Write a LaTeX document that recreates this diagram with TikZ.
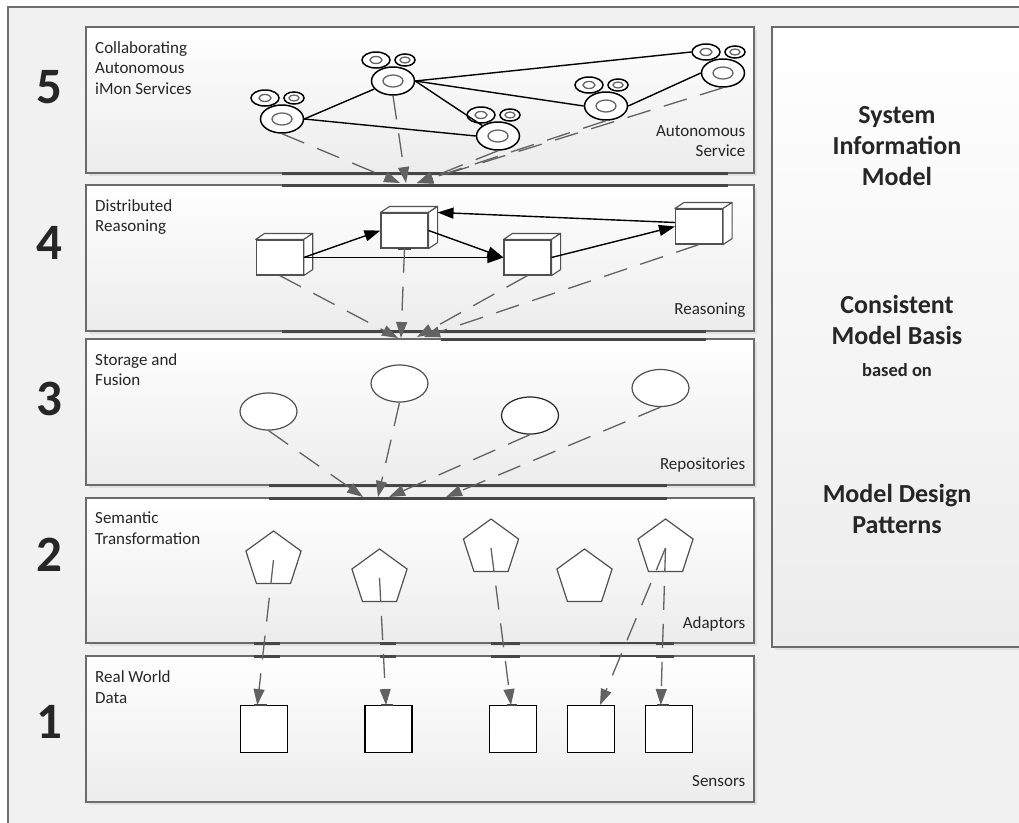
\documentclass[tikz,border=0pt]{standalone}
\usepackage{fontspec}
\setmainfont{Carlito}
\usetikzlibrary{arrows.meta,shapes.geometric,shadows,calc}

\definecolor{framegray}{HTML}{6F6F6F}
\definecolor{pagegray}{HTML}{F0F1F0}
\definecolor{boxedge}{HTML}{6B6B6B}
\definecolor{boxfoot}{HTML}{EBECEB}
\definecolor{linkgray}{HTML}{626262}
\definecolor{bargray}{HTML}{464646}
\definecolor{inkgray}{HTML}{262626}
\definecolor{shapeedge}{HTML}{505050}

\tikzset{
  layerbox/.style={draw=boxedge, line width=1.5pt, top color=white, bottom color=boxfoot,
    drop shadow={shadow xshift=2.5pt, shadow yshift=-3pt, opacity=0.15}},
  joinbar/.style={draw=bargray, line width=3pt},
  thinbar/.style={draw=bargray, line width=1.2pt},
  gluemark/.style={draw=bargray, line width=2pt},
  layernum/.style={font=\fontsize{51}{60}\selectfont\bfseries, text=inkgray, inner sep=0pt},
  layertitle/.style={font=\fontsize{17}{20.6}\selectfont, text=inkgray, align=left, inner sep=0pt, anchor=base west},
  layertag/.style={font=\fontsize{17}{20.6}\selectfont, text=inkgray, align=right, inner sep=0pt, anchor=base east},
  sidetext/.style={font=\fontsize{26}{31}\selectfont\bfseries, text=inkgray, align=center, inner sep=0pt, anchor=base},
  ring/.style={ellipse, draw=black, line width=1.5pt, fill=white, inner sep=0pt},
  ringcore/.style={ellipse, draw=black!60, line width=1.3pt, fill=white, inner sep=0pt},
  peer/.style={draw=black, line width=1.4pt},
  cubeface/.style={rectangle, draw=shapeedge, line width=1.1pt, fill=white, inner sep=0pt,
    minimum width=47pt, minimum height=35pt},
  cubeline/.style={draw=shapeedge, line width=1.1pt, fill=white, line join=round},
  reason/.style={draw=black, line width=1.4pt, -{Triangle[length=16pt,width=11pt]}},
  repo/.style={ellipse, draw=shapeedge, line width=1.2pt, fill=white, inner sep=0pt,
    minimum width=57pt, minimum height=37pt},
  adaptor/.style={regular polygon, regular polygon sides=5, draw=shapeedge, line width=1.2pt,
    fill=white, inner sep=0pt, minimum size=58pt},
  sensor/.style={rectangle, draw=black, line width=1.3pt, fill=white, inner sep=0pt, minimum size=47pt},
  flow/.style={draw=linkgray, line width=1.3pt, dash pattern=on 24pt off 14pt,
    -{Triangle[length=16pt,width=11pt]}},
  service/.pic={
    \node[ring, minimum width=28pt, minimum height=16pt] (-earL) at (-17,-21) {};
    \node[ringcore, minimum width=12pt, minimum height=7pt] (-coreL) at (-17,-21) {};
    \node[ring, minimum width=20pt, minimum height=12pt] (-earR) at (12,-21) {};
    \node[ringcore, minimum width=10pt, minimum height=6pt] (-coreR) at (12,-21) {};
    \node[ring, minimum width=43pt, minimum height=28pt] (-big) at (0,0) {};
    \node[ringcore, minimum width=20pt, minimum height=12pt] (-core) at (0,0) {};
  }
}

% 3-D depth of a reasoning cube: top and right faces
\newcommand\cubedepth[1]{%
  \draw[cubeline] (#1.north west) -- ++(9,-6) -- ($(#1.north east)+(9,-6)$) -- (#1.north east) -- cycle;
  \draw[cubeline] (#1.north east) -- ++(9,-6) -- ($(#1.south east)+(9,-6)$) -- (#1.south east) -- cycle;
}

\begin{document}
\begin{tikzpicture}[x=1pt, y=-1pt]
\useasboundingbox (0,0) rectangle (1019,822);
\clip (0,0) rectangle (1019,822);
\fill[white] (0,0) rectangle (1019,822);
\draw[draw=framegray, line width=1.5pt, fill=pagegray] (8,7) rectangle (1060,860);

% layer boxes and the model panel
\path[layerbox] (86,27)  rectangle (754,173);
\path[layerbox] (86,185) rectangle (754,331);
\path[layerbox] (86,339) rectangle (754,485);
\path[layerbox] (86,498) rectangle (754,643);
\path[layerbox] (86,656) rectangle (754,802);
\path[layerbox] (772,27) rectangle (1060,647);

% glue bars where connectors cross layer borders
\draw[joinbar] (282,173) -- (728,173);
\draw[joinbar] (282,185) -- (728,185);
\draw[joinbar] (282,331) -- (706,331);
\draw[joinbar] (441,339) -- (706,339);
\draw[joinbar] (269,485) -- (667,485);
\draw[joinbar] (269,498) -- (667,498);
\foreach \yy in {643,656}{
  \draw[joinbar] (254,\yy) -- (280,\yy);
  \draw[joinbar] (380,\yy) -- (396,\yy);
  \draw[joinbar] (491,\yy) -- (520,\yy);
  \draw[thinbar] (600,\yy) -- (656,\yy);
  \draw[joinbar] (656,\yy) -- (674,\yy);
}

% layer numbers
\node[layernum] (n5) at (49,87)  {5};
\node[layernum] (n4) at (49,243) {4};
\node[layernum] (n3) at (49,399) {3};
\node[layernum] (n2) at (49,555) {2};
\node[layernum] (n1) at (49,722) {1};

% layer titles (anchored at the baseline of their last line)
\node[layertitle] (l5) at (95,94.3)  {Collaborating\\Autonomous\\iMon Services};
\node[layertitle] (l4) at (95,231.6) {Distributed\\Reasoning};
\node[layertitle] (l3) at (95,385.6) {Storage and\\Fusion};
\node[layertitle] (l2) at (95,544.1) {Semantic\\Transformation};
\node[layertitle] (l1) at (95,703.1) {Real World\\Data};

% layer tags
\node[layertag] (g5) at (745.5,156.7) {Autonomous\\Service};
\node[layertag] (g4) at (745.5,314)   {Reasoning};
\node[layertag] (g3) at (745.5,469.5) {Repositories};
\node[layertag] (g2) at (745.5,628)   {Adaptors};
\node[layertag] (g1) at (745.5,786.5) {Sensors};

% model panel text
\node[sidetext] (m1) at (897,185)   {System\\Information\\Model};
\node[sidetext] (m2) at (897,344)   {Consistent\\Model Basis};
\node[sidetext, font=\fontsize{18.5}{22}\selectfont\bfseries] (m3) at (897,376.7) {based on};
\node[sidetext] (m4) at (897,533.5) {Model Design\\Patterns};

% ---- layer 5: autonomous services
\pic (s1) at (282,119) {service};
\pic (s2) at (393,81)  {service};
\pic (s3) at (498,136) {service};
\pic (s4) at (606,106) {service};
\pic (s5) at (723,73)  {service};

\draw[peer] (s1-big.east) -- (s2-big);
\draw[peer] (s1-big.east) -- (s3-big.west);
\draw[peer] (s2-big.east) -- (s3-big);
\draw[peer] (s2-big.east) -- (s4-big.west);
\draw[peer] (s2-big.east) -- (s5-earL.west);
\draw[peer] (s4-big.east) -- (s5-big.west);

\coordinate (t5a) at (400,183);
\coordinate (t5b) at (406,183);
\coordinate (t5c) at (417,183);
\draw[flow] (s1-big.south) -- (t5a);
\draw[flow] (s2-big.south) -- (t5b);
\draw[flow] (s3-big.south) -- (t5c);
\draw[flow] (s4-big.south) -- (t5c);
\draw[flow] (s5-big.south) -- (t5c);

% ---- layer 4: distributed reasoning
\node[cubeface] (c1) at (279.7,257.5) {};
\node[cubeface] (c2) at (404.5,230.5) {};
\node[cubeface] (c3) at (527.5,257.5) {};
\node[cubeface] (c4) at (699,226.5)   {};
\cubedepth{c1}
\cubedepth{c2}
\cubedepth{c3}
\cubedepth{c4}
\draw[gluemark] ($(c2.south)+(-7,0)$) -- ($(c2.south)+(6,0)$);

\draw[reason] (c1.east) -- (c2.west);
\draw[reason] (c1.east) -- (c3.west);
\draw[reason] (c2.east) -- (c3.west);
\draw[reason] (c3.east) -- (c4.west);
\draw[reason] ($(c4.west)+(0,-4)$) -- ($(c2.north east)+(9,0)$);

\coordinate (t4a) at (398,338);
\coordinate (t4b) at (401,338);
\coordinate (t4c) at (417,337);
\coordinate (t4d) at (424,337);
\draw[flow] (c1.south) -- (t4a);
\draw[flow] (c2.south) -- (t4b);
\draw[flow] (c3.south) -- (t4c);
\draw[flow] (c4.south) -- (t4d);

% ---- layer 3: repositories
\node[repo] (e1) at (268.5,411.5) {};
\node[repo] (e2) at (399.5,383.5) {};
\node[repo, draw=black!85] (e3) at (530,415.5) {};
\node[repo] (e4) at (660.5,388)   {};

\coordinate (t3a) at (363,497);
\coordinate (t3b) at (378,497);
\coordinate (t3c) at (389,497);
\coordinate (t3d) at (446,497);
\draw[flow] (e1.south) -- (t3a);
\draw[flow] (e2.south) -- (t3b);
\draw[flow] (e3.south) -- (t3c);
\draw[flow] (e4.south) -- (t3d);

% ---- layer 2: adaptors
\node[adaptor] (p1) at (273.5,560) {};
\node[adaptor] (p2) at (379.5,578) {};
\node[adaptor] (p3) at (491,548)   {};
\node[adaptor] (p4) at (584.5,578) {};
\node[adaptor] (p5) at (665.5,548) {};

% ---- layer 1: sensors
\node[sensor] (r1) at (264.3,729.2) {};
\node[sensor] (r2) at (388.5,729.2) {};
\node[sensor] (r3) at (513,729.2)   {};
\node[sensor] (r4) at (591,729.2)   {};
\node[sensor] (r5) at (668.8,729.2) {};
\draw[gluemark] ($(r1.north)+(-10,0)$) -- ($(r1.north)+(3,0)$);
\draw[gluemark] ($(r2.north)+(-8,0)$)  -- ($(r2.north)+(4,0)$);
\draw[gluemark] ($(r3.north)+(-6,0)$)  -- ($(r3.north)+(4,0)$);
\draw[gluemark] ($(r5.north)+(-12,0)$) -- ($(r5.north)+(0,0)$);

\draw[flow] (p1.center) -- ($(r1.north)+(-7,0)$);
\draw[flow] (p2.center) -- ($(r2.north)+(-2.5,0)$);
\draw[flow] (p3.center) -- ($(r3.north)+(-2,0)$);
\draw[flow] (p5.center) -- ($(r4.north)+(9,0)$);
\draw[flow] (p5.center) -- ($(r5.north)+(-8,0)$);
\end{tikzpicture}
\end{document}
